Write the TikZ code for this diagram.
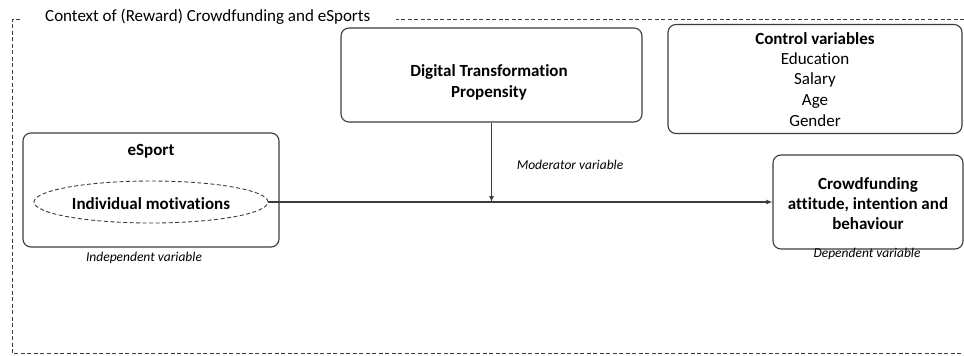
\documentclass[tikz,border=0pt]{standalone}
\usepackage{fontspec}
\setmainfont[Ligatures=CommonOff]{Carlito}
\usetikzlibrary{shapes.geometric,arrows.meta}
\definecolor{ln}{RGB}{60,60,60}
\begin{document}
\begin{tikzpicture}[x=1pt,y=-1pt,
  box/.style={draw=ln,line width=1.1pt,rounded corners=8pt,inner sep=0pt},
  txt/.style={inner sep=0pt,align=center,anchor=base},
  lab/.style={font=\fontsize{13.5}{16}\selectfont\itshape,inner sep=0pt,anchor=base},
  hd/.style={font=\fontsize{17}{20.5}\selectfont\bfseries},
  conn/.style={draw=ln,line width=1.1pt,-{Latex[length=6pt,width=5pt]}}]
\useasboundingbox (0,0) rectangle (964,356);
% context frame
\draw[ln,line width=0.9pt,dash pattern=on 4pt off 2.5pt] (964,19) -- (396,19);
\draw[ln,line width=0.9pt,dash pattern=on 4pt off 2.5pt] (20,19) -- (12,19) -- (12,353) -- (964,353);
\node[anchor=base west,inner sep=0pt,font=\fontsize{17}{20}\selectfont] (ctx) at (45,21.5) {Context of (Reward) Crowdfunding and eSports};
% boxes
\node[box,minimum width=301pt,minimum height=94pt] (dtp) at (491.5,75) {};
\node[txt,hd] (dtpt) at (489,97) {Digital Transformation\\Propensity};
\node[box,minimum width=294pt,minimum height=109pt] (ctrl) at (815,79) {};
\node[txt,hd] (ctrlh) at (815,44) {Control variables};
\node[txt,font=\fontsize{17}{20.6}\selectfont] (ctrlt) at (815,126) {Education\\Salary\\Age\\Gender};
\node[box,minimum width=256pt,minimum height=114pt] (esp) at (151,190) {};
\node[txt,hd] (esph) at (151,155) {eSport};
\node[ellipse,draw=ln,line width=0.9pt,dash pattern=on 4pt off 2.5pt,minimum width=234pt,minimum height=42pt,inner sep=0pt] (mot) at (151,202) {};
\node[txt,hd] (mott) at (151,209) {Individual motivations};
\node[box,minimum width=190pt,minimum height=94pt] (dep) at (868,202) {};
\node[txt,font=\fontsize{17}{20}\selectfont\bfseries] (dept) at (868,229) {Crowdfunding\\attitude, intention and\\behaviour};
% labels
\node[lab] (indl) at (144,261.5) {Independent variable};
\node[lab] (depl) at (867,257.5) {Dependent variable};
\node[lab] (modl) at (570,169.5) {Moderator variable};
% connectors
\draw[conn] (mot.east) -- (dep.west |- mot.east);
\coordinate (mid) at (dtp.south |- mot.east);
\draw[conn] (dtp.south) -- (mid);
\end{tikzpicture}
\end{document}
